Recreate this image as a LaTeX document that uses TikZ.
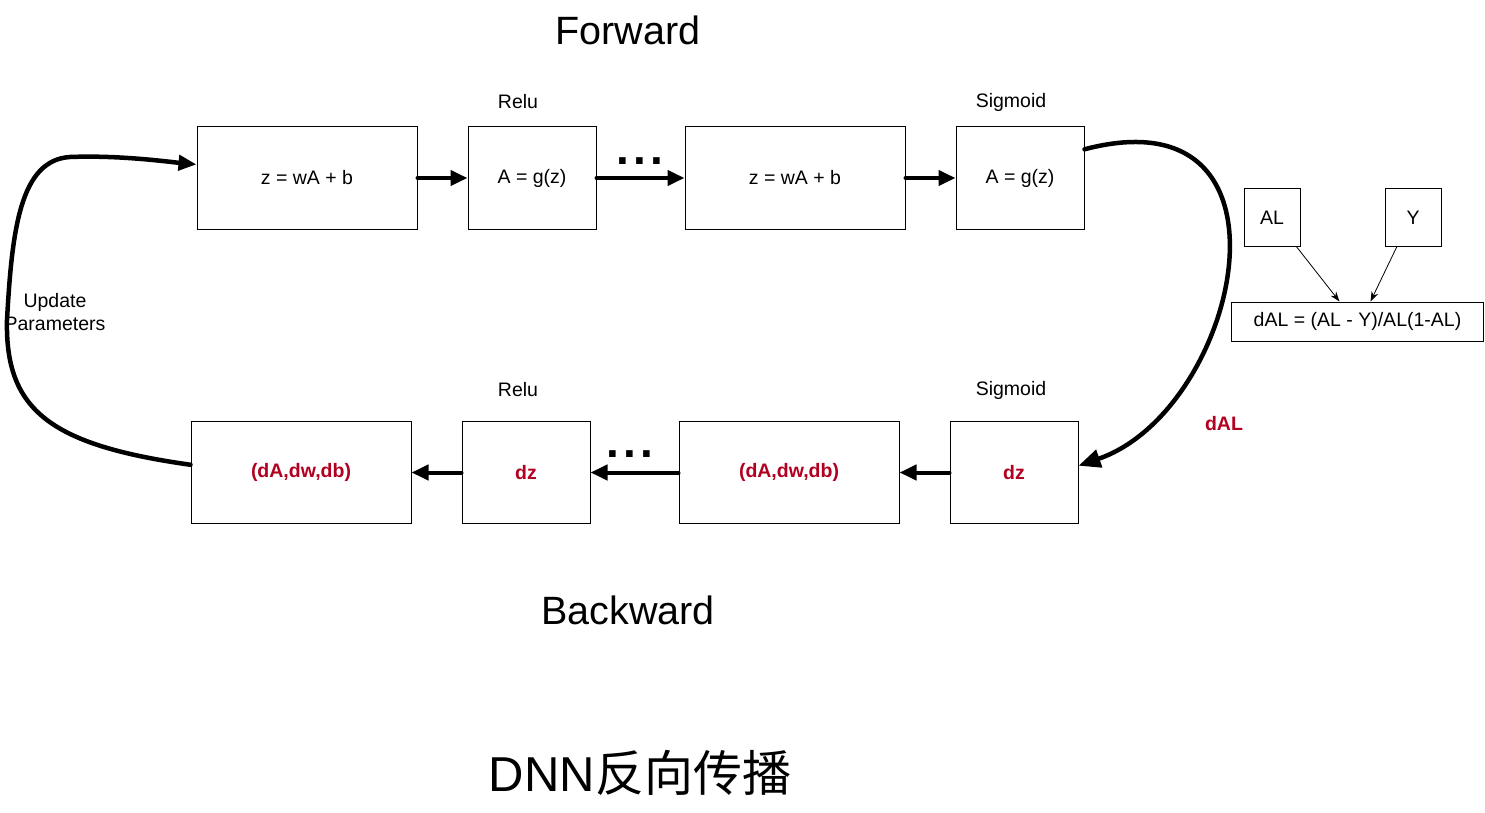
\documentclass[tikz,border=0pt]{standalone}
\usepackage{fontspec}
\setmainfont{Liberation Sans}
\newfontfamily\cjk{Noto Sans CJK SC}
\usetikzlibrary{arrows.meta}
\definecolor{myred}{RGB}{178,0,32}
\begin{document}
\begin{tikzpicture}[x=1pt,y=-1pt,
  lbl/.style={font=\fontsize{19.5}{23}\selectfont, inner sep=0pt},
  wbox/.style={draw, line width=1pt, minimum width=220pt, minimum height=102pt, inner sep=0pt, font=\fontsize{19.5}{23}\selectfont},
  nbox/.style={draw, line width=1pt, minimum width=128pt, minimum height=102pt, inner sep=0pt, font=\fontsize{19.5}{23}\selectfont},
  redtxt/.style={text=myred, font=\fontsize{19.5}{23}\selectfont\bfseries},
  sbox/.style={draw, line width=1pt, minimum width=56pt, minimum height=57pt, inner sep=0pt, font=\fontsize{19.5}{23}\selectfont},
  thick arrow/.style={line width=4pt, line cap=round, -{Triangle[length=17pt,width=15pt]}},
  thin arrow/.style={line width=0.8pt, -{Stealth[length=10pt,width=7pt]}},
  curve arrow/.style={line width=4.5pt, line cap=round},
  dotsnode/.style={font=\fontsize{46}{46}\selectfont\bfseries, inner sep=0pt, anchor=base},
  title/.style={font=\fontsize{39.5}{44}\selectfont, inner sep=0pt}
]
\useasboundingbox (0,0) rectangle (1485,813);
\fill[white] (0,0) rectangle (1485,813);

% titles
\node[title] (tf) at (628,30) {Forward};
\node[title] (tb) at (628,610) {Backward};
\node[font=\fontsize{49}{54}\selectfont, inner sep=0pt] (tdnn) at (640,773) {DNN{\cjk 反向传播}};

% forward row
\node[wbox] (B1) at (307,178) {z = wA + b};
\node[nbox] (B2) at (532,178) {A = g(z)};
\node[wbox] (B3) at (795,178) {z = wA + b};
\node[nbox] (B4) at (1020,178) {A = g(z)};
\node[lbl] (relu1) at (518,102) {Relu};
\node[lbl] (sig1) at (1011,102) {Sigmoid};
\node[dotsnode] (dots1) at (640,165) {.\hspace{4pt}.\hspace{4pt}.};

\draw[thick arrow] (B1.east) -- (B2.west);
\draw[thick arrow] (B2.east) -- (B3.west);
\draw[thick arrow] (B3.east) -- (B4.west);

% backward row
\node[wbox] (C1) at (301,472.5) {};
\node[redtxt] (C1t) at (C1.center) {(dA,dw,db)};
\node[nbox] (C2) at (526,472.5) {};
\node[redtxt] (C2t) at (C2.center) {dz};
\node[wbox] (C3) at (789,472.5) {};
\node[redtxt] (C3t) at (C3.center) {(dA,dw,db)};
\node[nbox] (C4) at (1014,472.5) {};
\node[redtxt] (C4t) at (C4.center) {dz};
\node[lbl] (relu2) at (518,390) {Relu};
\node[lbl] (sig2) at (1011,390) {Sigmoid};
\node[dotsnode] (dots2) at (630,457) {.\hspace{4pt}.\hspace{4pt}.};

\draw[thick arrow] (C4.west) -- (C3.east);
\draw[thick arrow] (C3.west) -- (C2.east);
\draw[thick arrow] (C2.west) -- (C1.east);

% loss side
\node[sbox] (AL) at (1272,217.5) {AL};
\node[sbox] (Y) at (1413,217.5) {Y};
\node[draw, line width=1pt, minimum width=252pt, minimum height=39pt, inner sep=0pt, font=\fontsize{19.5}{23}\selectfont] (dAL) at (1357.5,321.5) {dAL = (AL - Y)/AL(1-AL)};
\draw[thin arrow] (AL.-50) -- (dAL.132);
\draw[thin arrow] (Y.-119) -- (dAL.57);

% big curve forward -> backward
\draw[curve arrow, -{Triangle[length=22pt,width=18pt]}] (B4.24) .. controls (1310,90) and (1240,410) .. (C4.6);
\node[redtxt] (dALlbl) at (1224,424) {dAL};

% update parameters curve
\coordinate (upmid) at (7,320);
\coordinate (uptop) at (70,157);
\draw[curve arrow, -{Triangle[length=18pt,width=15pt]}] (C1.176) .. controls (50,445) and (5,410) .. (upmid) .. controls (12,230) and (20,160) .. (uptop) .. controls (120,155) and (170,162) .. (B1.173);
\node[lbl, align=center] (upd) at (55,312) {Update\\Parameters};
\end{tikzpicture}
\end{document}
